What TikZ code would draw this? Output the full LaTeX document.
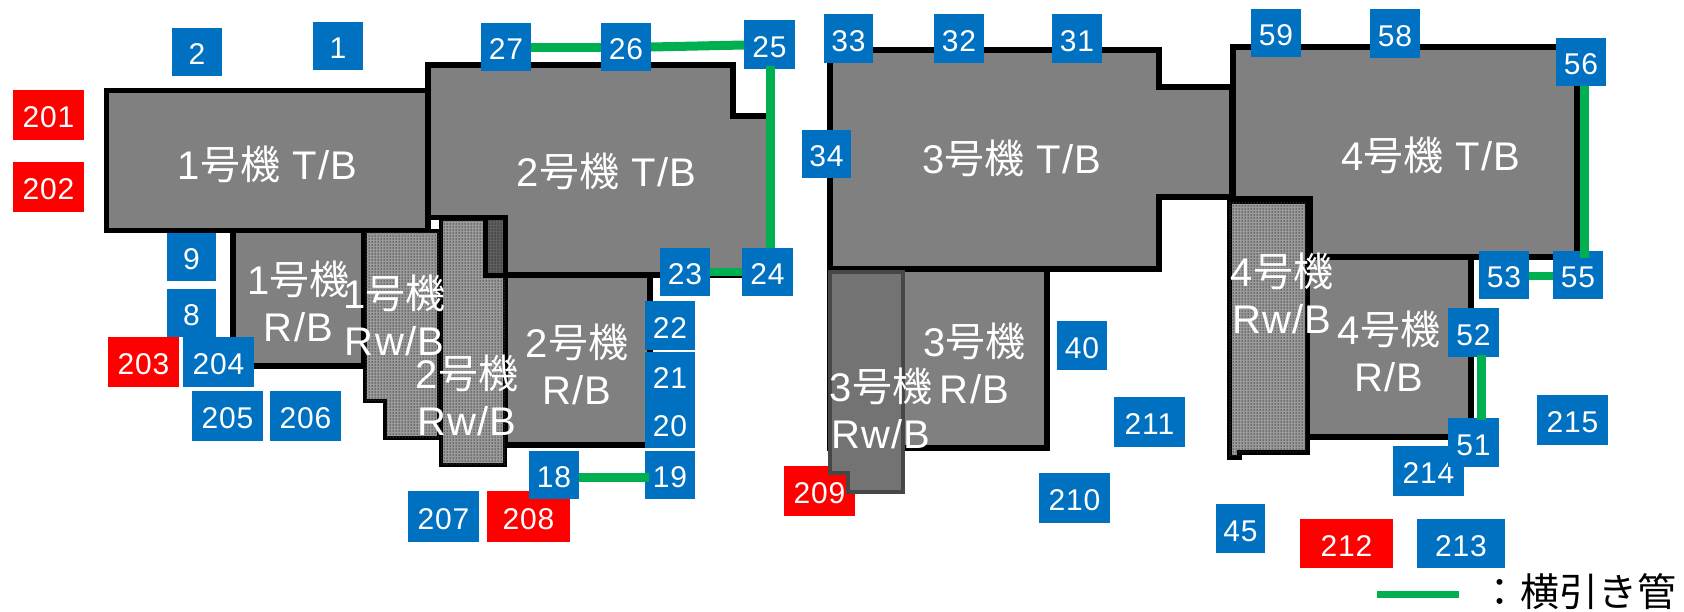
\documentclass[tikz,border=0pt]{standalone}
\usepackage{fontspec}
\setmainfont[LetterSpace=3]{Liberation Sans}
\newfontfamily\jpf{Noto Sans CJK JP}
\usetikzlibrary{patterns.meta}
\definecolor{bluebox}{HTML}{0070C0}
\definecolor{redbox}{HTML}{FF0000}
\definecolor{pipegreen}{HTML}{00B050}
\definecolor{bldg}{HTML}{808080}
\definecolor{rwfill}{HTML}{9A9A9A}
\definecolor{rwdot}{HTML}{404040}
\definecolor{patchfill}{HTML}{5E5E5E}
\definecolor{patchdot}{HTML}{303030}
\newcommand\numtxt[1]{\raisebox{-12.7pt}[0pt][0pt]{#1}}
\newcommand\gou{{\jpf 号機}}
\tikzset{
  tb/.style={draw=black,line width=5.4pt,fill=bldg,miter limit=10},
  rwb/.style={draw=black,line width=4pt,fill=rwfill},
  dotfill/.style={pattern={Dots[distance=3pt,radius=0.75pt]},pattern color=rwdot},
  rw3/.style={draw=black!72,line width=4pt,fill=black!55},
  idbox/.style={inner sep=0pt,outer sep=0pt,text=white,font=\fontsize{30}{36}\selectfont},
  blabel/.style={text=white,inner sep=0pt,align=center,font=\fontsize{40}{47}\selectfont},
  pipe/.style={draw=pipegreen,line width=9pt},
  pipethin/.style={draw=pipegreen,line width=8pt},
}
% name, x1, y1, x2, y2, text, colour
\newcommand\idb[7]{\node[idbox,fill=#7,minimum width={(#4-#2)*1pt},minimum height={(#5-#3)*1pt}] (#1) at ({(#2+#4)/2},{(#3+#5)/2}) {\numtxt{#6}};}
\begin{document}
\begin{tikzpicture}[x=1pt,y=-1pt]
\useasboundingbox (0,0) rectangle (1684,611);
% boxes lying beneath the buildings
\idb{n209}{784}{466}{855}{516}{209}{redbox}
% --- unit 1
\draw[tb] (233,230) rectangle (364,366);
\draw[tb] (106.5,90.5) rectangle (428,230.5);
% --- unit 2
\draw[tb] (505,275) rectangle (650,445);
\draw[tb] (428,65) -- (733,65) -- (733,116) -- (770,116) -- (770,275) -- (505,275) -- (505,217.5) -- (428,217.5) -- cycle;
% radwaste unit 1
\draw[rwb] (365,231) -- (439,231) -- (439,438) -- (385,438) -- (385,401) -- (365,401) -- cycle;
\fill[dotfill] (365,231) -- (439,231) -- (439,438) -- (385,438) -- (385,401) -- (365,401) -- cycle;
% radwaste unit 2
\draw[rwb,line width=3.6pt] (441,219) -- (505,219) -- (505,465) -- (441,465) -- cycle;
\fill[dotfill] (441,219) -- (505,219) -- (505,465) -- (441,465) -- cycle;
\fill[patchfill] (487,219) rectangle (504,274);
\fill[dotfill,pattern color=patchdot] (487,219) rectangle (504,274);
\draw[black,line width=5pt] (485.5,217) -- (485.5,275) -- (505,275);
\draw[black,line width=4.5pt] (484,217.5) -- (505,217.5) -- (505,278);
% --- unit 3
\draw[tb] (830,269) rectangle (1047,448);
\draw[tb] (830,50) -- (1159,50) -- (1159,87) -- (1232,87) -- (1232,197) -- (1159,197) -- (1159,269) -- (830,269) -- cycle;
\draw[rw3] (830,272) -- (903,272) -- (903,492) -- (848,492) -- (848,473) -- (830,473) -- cycle;
% --- unit 4
\draw[tb] (1307,257) rectangle (1471,437);
\draw[tb] (1233,47) -- (1577,47) -- (1577,257) -- (1310,257) -- (1310,199) -- (1233,199) -- cycle;
\draw[rwb,line width=5pt] (1229,201) -- (1307,201) -- (1307,452) -- (1239,452) -- (1239,457) -- (1229,457) -- cycle;
\fill[dotfill] (1229,201) -- (1307,201) -- (1307,452) -- (1239,452) -- (1239,457) -- (1229,457) -- cycle;
% building labels
\node[blabel] (l1t) at (267.5,164) {1\gou{} T/B};
\node[blabel] (l2t) at (606.5,171) {2\gou{} T/B};
\node[blabel] (l3t) at (1011.7,158) {3\gou{} T/B};
\node[blabel] (l4t) at (1430.7,155) {4\gou{} T/B};
\node[blabel] (l1r) at (298.5,301.5) {1\gou\\R/B};
\node[blabel] (l1w) at (394.5,315.5) {1\gou\\Rw/B};
\node[blabel] (l2w) at (467,395) {2\gou\\Rw/B};
\node[blabel] (l2r) at (577,364) {2\gou\\R/B};
\node[blabel] (l3r) at (974.5,363) {3\gou\\R/B};
\node[blabel] (l3w) at (881,408.5) {3\gou\\Rw/B};
\node[blabel] (l4w) at (1282,293.5) {4\gou\\Rw/B};
\node[blabel] (l4r) at (1389,351) {4\gou\\R/B};
% number boxes
\idb{n2}{172}{28}{222}{76}{2}{bluebox}
\idb{n1}{313}{22}{363}{70}{1}{bluebox}
\idb{n201}{13}{90}{84}{140}{201}{redbox}
\idb{n202}{13}{162}{84}{212}{202}{redbox}
\idb{n9}{167}{233}{216}{281}{9}{bluebox}
\idb{n8}{167}{289}{216}{337}{8}{bluebox}
\idb{n203}{108}{337}{179}{387}{203}{redbox}
\idb{n204}{183}{337}{254}{387}{204}{bluebox}
\idb{n205}{192}{391}{263}{441}{205}{bluebox}
\idb{n206}{270}{391}{341}{441}{206}{bluebox}
\idb{n207}{408}{491}{479}{542}{207}{bluebox}
\idb{n208}{487}{491}{570}{542}{208}{redbox}
\idb{n18}{529}{451}{579}{499}{18}{bluebox}
\idb{n19}{645}{451}{695}{499}{19}{bluebox}
\idb{n20}{645}{400}{695}{448}{20}{bluebox}
\idb{n21}{645}{352}{695}{400}{21}{bluebox}
\idb{n22}{645}{301}{695}{350}{22}{bluebox}
\idb{n23}{660}{248}{710}{296}{23}{bluebox}
\idb{n24}{742}{248}{793}{296}{24}{bluebox}
\idb{n25}{744}{20}{795}{69}{25}{bluebox}
\idb{n26}{601}{23}{651}{71}{26}{bluebox}
\idb{n27}{481}{23}{531}{71}{27}{bluebox}
\idb{n33}{824}{14}{873}{63}{33}{bluebox}
\idb{n32}{934}{14}{984}{63}{32}{bluebox}
\idb{n31}{1052}{14}{1102}{63}{31}{bluebox}
\idb{n34}{802}{130}{851}{178}{34}{bluebox}
\idb{n59}{1251}{9}{1301}{57}{59}{bluebox}
\idb{n58}{1370}{9}{1420}{58}{58}{bluebox}
\idb{n56}{1556}{38}{1606}{86}{56}{bluebox}
\idb{n53}{1479}{251}{1529}{299}{53}{bluebox}
\idb{n55}{1553}{251}{1603}{299}{55}{bluebox}
\idb{n52}{1448}{308}{1499}{357}{52}{bluebox}
\idb{n214}{1393}{446}{1464}{496}{214}{bluebox}
\idb{n51}{1448}{418}{1499}{467}{51}{bluebox}
\idb{n215}{1537}{395}{1608}{445}{215}{bluebox}
\idb{n45}{1216}{504}{1265}{553}{45}{bluebox}
\idb{n212}{1300}{519}{1393}{568}{212}{redbox}
\idb{n213}{1417}{519}{1505}{568}{213}{bluebox}
\idb{n40}{1057}{321}{1107}{370}{40}{bluebox}
\idb{n211}{1114}{397}{1185}{447}{211}{bluebox}
\idb{n210}{1039}{473}{1110}{523}{210}{bluebox}
% pipes
\draw[pipe] (n27.east) -- (n26.west);
\draw[pipe] (n26.east) -- ([yshift=-0.5pt]n25.west);
\draw[pipe] ([shift={(0.5,-3)}]n25.south) -- ([shift={(2.5,0)}]n24.north);
\draw[pipethin] (n23.east) -- (n24.west);
\draw[pipe] ([yshift=-2pt]n18.east) -- ([xshift=4pt,yshift=-2pt]n19.west);
\draw[pipe] ([shift={(3,0)}]n56.south) -- ([shift={(6,7)}]n55.north);
\draw[pipethin] ([yshift=-1pt]n53.east) -- ([yshift=-1pt]n55.west);
\draw[pipe] ([shift={(7.5,-2)}]n52.south) -- ([shift={(7.5,2)}]n51.north);
% legend
\coordinate (lega) at (1377,594);
\coordinate (legb) at (1459,594);
\draw[draw=pipegreen,line width=7pt] (lega) -- (legb);
\node[anchor=west,inner sep=0pt,text=black,font=\fontsize{39}{44}\selectfont\jpf] (legt) at (1480,592) {：\kern1pt 横引き管};
\end{tikzpicture}
\end{document}
